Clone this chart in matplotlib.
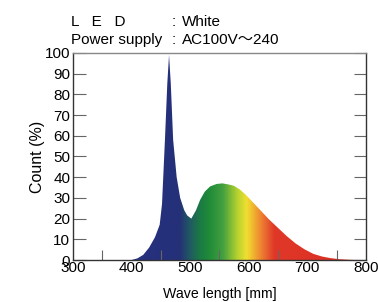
import numpy as np
import matplotlib
matplotlib.use("Agg")
import matplotlib.pyplot as plt
from matplotlib.colors import LinearSegmentedColormap

plt.rcParams['font.family'] = ['Liberation Sans', 'Noto Sans CJK JP', 'DejaVu Sans']

# spectrum
wave = [400, 410, 420, 430, 440, 448, 452, 457, 461, 464, 467, 471, 477, 483,
        490, 495, 502, 510, 517, 525, 534, 545, 555, 565, 575, 585, 595, 605,
        620, 635, 650, 665, 680, 695, 710, 725, 740, 755, 770, 785]
count = [0, 0.8, 2.5, 6, 11, 17, 27, 58, 85, 99, 85, 58, 40, 30,
         24, 21.5, 20, 24, 29, 33, 35.5, 36.7, 37, 36.5, 35.8, 34, 31.5, 28.5,
         24, 19.5, 15.5, 11.5, 8, 5.2, 3, 1.7, 0.9, 0.4, 0.15, 0]

yticks = list(range(0, 101, 10))
xticks = [300, 400, 500, 600, 700, 800]

# wavelength -> colour stops
stop_wave = [400, 480, 498, 515, 530, 555, 578, 595, 612, 630, 642, 800]
stop_col = ['#283080', '#243078', '#205a62', '#1a7a44', '#1e8a38', '#44a040',
            '#b0d030', '#f0e030', '#f0a030', '#e86030', '#e03828', '#d82c24']
pos = [(w - 400) / 400 for w in stop_wave]
cmap = LinearSegmentedColormap.from_list('spec', list(zip(pos, stop_col)))

fig = plt.figure(figsize=(3.78, 3.02), dpi=100)
ax = fig.add_axes([0.193, 0.139, 0.775, 0.686])

poly = ax.fill_between(wave, count, 0, color='none', lw=0)
grad = np.linspace(400, 800, 400).reshape(1, -1)
img = ax.imshow(grad, extent=[400, 800, 0, 100], aspect='auto', cmap=cmap,
                vmin=400, vmax=800, origin='lower', zorder=1)
clip = poly.get_paths()[0]
img.set_clip_path(clip, transform=ax.transData)

ax.set_xlim(300, 800)
ax.set_ylim(0, 100)
ax.set_xticks(xticks)
ax.set_xticks(range(350, 800, 50), minor=True)
ax.set_yticks(yticks)
ax.tick_params(axis='y', direction='in', length=9, width=0.8, color='#666',
               right=True, labelsize=11, pad=2)
ax.tick_params(axis='x', which='both', direction='in', length=7, width=0.8,
               color='#666', labelsize=11, pad=1)
ax.tick_params(axis='x', which='major', length=0)
for s in ax.spines.values():
    s.set_color('#333')
    s.set_linewidth(1)
ax.spines['top'].set_color('#888')

ax.set_xlabel('Wave length [mm]', fontsize=10.2, labelpad=8)
ax.set_ylabel('Count (%)', fontsize=11.5, labelpad=0)

fig.text(0.187, 0.915, 'L   E   D', fontsize=11)
fig.text(0.455, 0.915, ':', fontsize=11)
fig.text(0.482, 0.915, 'White', fontsize=11)
fig.text(0.187, 0.853, 'Power supply', fontsize=11)
fig.text(0.455, 0.853, ':', fontsize=11)
fig.text(0.482, 0.853, 'AC100V〜240', fontsize=11)

fig.savefig('out.png', dpi=100)
